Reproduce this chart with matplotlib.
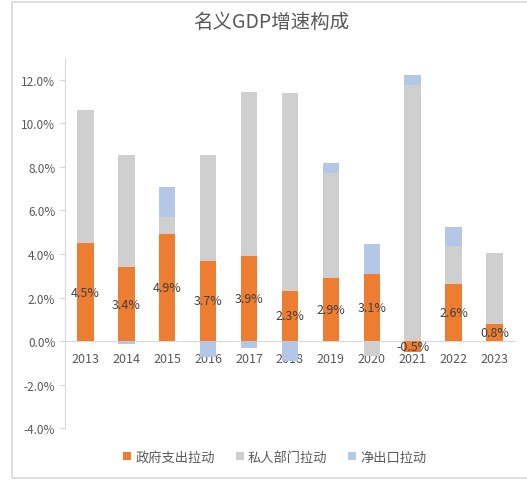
import numpy as np
import matplotlib
matplotlib.use("Agg")
import matplotlib.pyplot as plt
from matplotlib.patches import Rectangle

plt.rcParams['font.family'] = ['Noto Sans CJK SC', 'DejaVu Sans']

# data (percentage points)
years = ['2013', '2014', '2015', '2016', '2017', '2018', '2019', '2020', '2021', '2022', '2023']
gov = [4.5, 3.4, 4.9, 3.7, 3.9, 2.3, 2.9, 3.1, -0.5, 2.6, 0.8]
private = [6.14, 5.17, 0.82, 4.87, 7.56, 9.08, 4.82, -0.7, 11.76, 1.78, 3.26]
netexp = [0.0, -0.15, 1.34, -0.75, -0.3, -0.9, 0.47, 1.38, 0.46, 0.84, 0.0]

names = ['政府支出拉动', '私人部门拉动', '净出口拉动']
colors = ['#ED7D31', '#CFCFCF', '#B4C7E7']

fig = plt.figure(figsize=(5.27, 4.81), dpi=100)
ax = fig.add_axes([0.1233, 0.108, 0.8537, 0.769])

x = np.arange(len(years))
pos_base = np.zeros(len(years))
neg_base = np.zeros(len(years))
for vals, name, col in zip([gov, private, netexp], names, colors):
    v = np.array(vals)
    bottom = np.where(v >= 0, pos_base, neg_base)
    ax.bar(x, v, 0.4, bottom=bottom, color=col, label=name, zorder=2)
    pos_base = pos_base + np.where(v > 0, v, 0)
    neg_base = neg_base + np.where(v < 0, v, 0)

# labels on the government series
for xi, v in zip(x, gov):
    ax.text(xi, v / 2, '%.1f%%' % v, ha='center', va='center',
            fontsize=9, color='#404040', zorder=3)

ax.set_xlim(-0.5, len(years) - 0.5)
ax.set_ylim(-4, 13)
ax.set_yticks(np.arange(-4, 13, 2))
ax.set_yticklabels(['%.1f%%' % t for t in np.arange(-4, 13, 2)])
ax.set_xticks(x)
ax.set_xticklabels(years)

for s in ['top', 'right']:
    ax.spines[s].set_visible(False)
ax.spines['bottom'].set_position(('data', 0))
ax.spines['bottom'].set_color('#D9D9D9')
ax.spines['bottom'].set_zorder(1)
ax.spines['left'].set_color('#D9D9D9')
ax.tick_params(axis='x', length=0, pad=8, labelsize=9, labelcolor='#595959')
ax.tick_params(axis='y', length=4, color='#D9D9D9', labelsize=8.5,
               labelcolor='#595959', pad=3)

fig.text(0.515, 1 - 22 / 481, '名义GDP增速构成', ha='center', va='center',
         fontsize=14, color='#595959')

fig.legend(loc='center', bbox_to_anchor=(275 / 527, 1 - 458 / 481), ncol=3,
           frameon=False, fontsize=9.5, handlelength=0.6, handleheight=0.6,
           handletextpad=0.3, columnspacing=1.6, labelcolor='#595959')

# chart border
fig.patches.append(Rectangle((12 / 527, 2 / 481), 1.0, 476 / 481, fill=False,
                             edgecolor='#D9D9D9', linewidth=1.2,
                             transform=fig.transFigure, figure=fig))

fig.savefig('out.png', dpi=100)
